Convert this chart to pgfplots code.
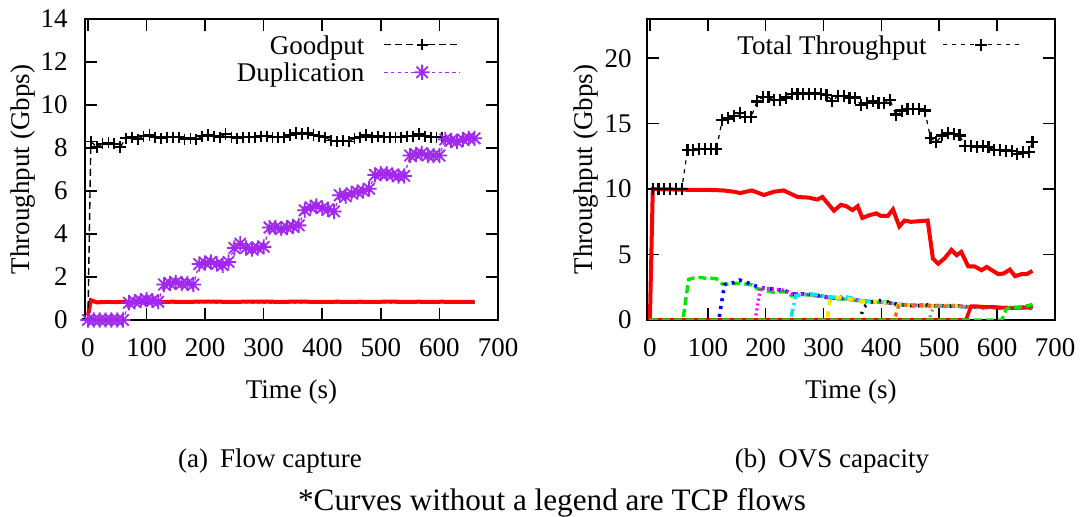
\documentclass[border=0pt]{standalone}
\usepackage{fontspec}
\setmainfont{Liberation Serif}
\usepackage{pgfplots}
\pgfplotsset{compat=1.18}
\definecolor{dup}{RGB}{160,40,240}
\definecolor{fgreen}{RGB}{0,230,0}
\definecolor{fblue}{RGB}{0,0,255}
\definecolor{fmag}{RGB}{255,0,255}
\definecolor{fcyan}{RGB}{0,230,240}
\definecolor{fyel}{RGB}{245,230,0}
\definecolor{forange}{RGB}{255,100,30}
\definecolor{fgray}{RGB}{150,150,150}
\definecolor{fred}{RGB}{255,0,0}
\pgfdeclareplotmark{gstar}{%
  \pgfpathmoveto{\pgfqpoint{-\pgfplotmarksize}{0pt}}\pgfpathlineto{\pgfqpoint{\pgfplotmarksize}{0pt}}%
  \pgfpathmoveto{\pgfqpoint{0pt}{-\pgfplotmarksize}}\pgfpathlineto{\pgfqpoint{0pt}{\pgfplotmarksize}}%
  \pgfpathmoveto{\pgfqpoint{-0.75\pgfplotmarksize}{-0.75\pgfplotmarksize}}\pgfpathlineto{\pgfqpoint{0.75\pgfplotmarksize}{0.75\pgfplotmarksize}}%
  \pgfpathmoveto{\pgfqpoint{-0.75\pgfplotmarksize}{0.75\pgfplotmarksize}}\pgfpathlineto{\pgfqpoint{0.75\pgfplotmarksize}{-0.75\pgfplotmarksize}}%
  \pgfusepathqstroke}
\pgfplotsset{
  base/.style={
    scale only axis, height=150.5pt,
    xmin=-5, xmax=700, xtick={0,100,...,700},
    tick align=inside, tick pos=both,
    major tick length=6pt,
    axis line style={line width=0.8pt},
    every tick/.style={black,line width=0.8pt},
    /pgf/number format/assume math mode=true,
    /pgf/number format/1000 sep={},
    xticklabel style={anchor=base, yshift=-18.25pt},
    xlabel={Time (s)}, ylabel={Throughput (Gbps)},
    xlabel style={at={(axis description cs:0.5,-0.261)}, anchor=base},
    legend cell align=right,
    legend plot pos=right,
    legend style={draw=none, fill=none, inner sep=0pt, outer sep=0pt,
      nodes={inner sep=0pt, text height=11.5pt, text depth=2.25pt},
      anchor=north east},
    legend image code/.code={%
      \draw[mark repeat=2,mark phase=2,##1] plot coordinates {(0pt,0pt) (19pt,0pt) (38pt,0pt)};},
  },
}
\begin{document}
\fontsize{13.5pt}{16pt}\selectfont
\begin{tikzpicture}[font=\fontsize{13.5pt}{16pt}\selectfont]
\useasboundingbox (0,0) rectangle (544.5pt,258.5pt);
% ---------------- (a) Flow capture ----------------
\begin{axis}[base, at={(42.5pt,98.5pt)}, anchor=south west, width=206.5pt,
  ymin=0, ymax=14, ytick={0,2,...,14}, clip mode=individual,
  yticklabel style={xshift=-4pt},
  ylabel style={at={(axis description cs:-0.150,0.5)}, anchor=center},
  legend style={at={(axis description cs:0.910,0.960)}, /tikz/column sep=9.5pt}]
% TCP flows (no legend)
\addplot[forget plot, fgreen, line width=1.2pt, dash pattern=on 4pt off 2pt] coordinates {
(0,0.2)(5,0.88)(25,0.86)(45,0.85)(65,0.87)(85,0.86)(105,0.85)(125,0.86)(145,0.87)(165,0.86)(185,0.85)(205,0.86)(225,0.87)(245,0.86)(265,0.85)(285,0.86)(305,0.87)(325,0.86)(345,0.85)(365,0.86)(385,0.87)(405,0.86)(425,0.85)(445,0.86)(465,0.87)(485,0.86)(505,0.85)(525,0.86)(545,0.87)(565,0.86)(585,0.85)(605,0.86)(625,0.87)(645,0.86)(660,0.86)};
\addplot[forget plot, fblue, line width=1.2pt, dash pattern=on 1.5pt off 2.5pt] coordinates {
(0,0.2)(5,0.84)(25,0.83)(45,0.84)(65,0.83)(85,0.84)(105,0.85)(125,0.84)(145,0.83)(165,0.84)(185,0.85)(205,0.84)(225,0.83)(245,0.84)(265,0.85)(285,0.84)(305,0.83)(325,0.84)(345,0.85)(365,0.84)(385,0.83)(405,0.84)(425,0.85)(445,0.84)(465,0.83)(485,0.84)(505,0.85)(525,0.84)(545,0.83)(565,0.84)(585,0.85)(605,0.84)(625,0.83)(645,0.84)(660,0.85)};
\addplot[forget plot, black, line width=0.8pt, dash pattern=on 1pt off 2pt] coordinates {
(0,0.2)(5,0.8)(25,0.8)(45,0.81)(65,0.8)(85,0.79)(105,0.8)(125,0.8)(145,0.81)(165,0.8)(185,0.8)(205,0.81)(225,0.8)(245,0.8)(265,0.81)(285,0.8)(305,0.8)(325,0.81)(345,0.8)(365,0.8)(385,0.81)(405,0.8)(425,0.8)(445,0.81)(465,0.8)(485,0.8)(505,0.81)(525,0.8)(545,0.8)(565,0.81)(585,0.8)(605,0.8)(625,0.81)(645,0.8)(660,0.8)};
\addplot[forget plot, fred, line width=2pt] coordinates {
(0,0.2)(5,0.92)(15,0.82)(25,0.83)(35,0.84)(45,0.83)(55,0.84)(65,0.84)(75,0.83)(85,0.85)(95,0.84)(105,0.85)(115,0.86)(125,0.84)(145,0.85)(165,0.84)(185,0.85)(205,0.86)(225,0.85)(245,0.84)(265,0.85)(285,0.85)(305,0.86)(325,0.84)(345,0.85)(365,0.86)(385,0.84)(405,0.84)(425,0.85)(445,0.84)(465,0.85)(485,0.84)(505,0.85)(525,0.85)(545,0.84)(565,0.85)(585,0.84)(605,0.85)(625,0.84)(645,0.84)(660,0.84)};
% Goodput
\addplot[black, line width=0.7pt, dash pattern=on 3.5pt off 2pt, mark=+, mark size=2.8pt,
  mark options={solid, line width=0.9pt}] coordinates {
(0,0.05)(5,8.3)(15,8.05)(25,8.2)(35,8.25)(45,8.2)(55,8.05)(65,8.45)(75,8.5)(85,8.4)(95,8.55)
(105,8.6)(115,8.5)(125,8.45)(135,8.5)(145,8.5)(155,8.5)(165,8.4)(175,8.45)(185,8.4)(195,8.55)
(205,8.6)(215,8.55)(225,8.5)(235,8.65)(245,8.5)(255,8.45)(265,8.5)(275,8.5)(285,8.5)(295,8.55)
(305,8.55)(315,8.5)(325,8.5)(335,8.5)(345,8.6)(355,8.7)(365,8.65)(375,8.7)(385,8.6)(395,8.55)
(405,8.5)(415,8.35)(425,8.3)(435,8.35)(445,8.3)(455,8.45)(465,8.5)(475,8.6)(485,8.5)(495,8.55)
(505,8.5)(515,8.5)(525,8.5)(535,8.5)(545,8.55)(555,8.55)(565,8.65)(575,8.55)(585,8.5)(595,8.5)(605,8.5)};
\addlegendentry{Goodput}
% Duplication
\addplot[dup, line width=0.6pt, dash pattern=on 1.7pt off 1.7pt, mark=gstar, mark size=3.8pt,
  mark options={solid, line width=0.9pt}] coordinates {
(0,0)(10,0)(20,0)(30,0)(40,0)(50,0)(60,0)
(70,0.8)(80,0.85)(90,0.9)(100,0.95)(110,0.9)(120,0.85)
(130,1.65)(140,1.7)(150,1.75)(160,1.7)(170,1.7)(180,1.65)
(190,2.6)(200,2.65)(210,2.7)(220,2.6)(230,2.55)(240,2.7)
(250,3.35)(260,3.55)(270,3.35)(280,3.3)(290,3.35)(300,3.4)
(310,4.3)(320,4.3)(330,4.25)(340,4.3)(350,4.35)(360,4.4)
(370,5.1)(380,5.25)(390,5.3)(400,5.2)(410,5.15)(420,5.05)
(430,5.8)(440,5.75)(450,5.9)(460,5.95)(470,6.0)(480,6.1)
(490,6.75)(500,6.8)(510,6.8)(520,6.75)(530,6.7)(540,6.7)
(550,7.65)(560,7.7)(570,7.75)(580,7.65)(590,7.65)(600,7.65)
(610,8.4)(620,8.35)(630,8.3)(640,8.4)(650,8.45)(660,8.45)};
\addlegendentry{Duplication}
\end{axis}
% ---------------- (b) OVS capacity ----------------
\begin{axis}[base, at={(323.5pt,98.5pt)}, anchor=south west, width=204pt,
  ymin=0, ymax=23, ytick={0,5,...,20},
  yticklabel style={xshift=-3pt},
  ylabel style={at={(axis description cs:-0.149,0.5)}, anchor=center},
  legend style={at={(axis description cs:0.914,0.960)}, /tikz/column sep=8pt}]
% main TCP flow
\addplot[forget plot, fred, line width=2pt] coordinates {
(0,0)(5,10)(65,9.95)(95,9.95)(127,9.9)(145,9.8)(156,9.7)(176,9.9)(197,9.55)(214,9.8)(231,9.9)
(255,9.4)(275,9.35)(289,9.2)(298,9.4)(318,8.35)(330,8.8)(339,8.7)(350,8.4)(359,8.7)(367,7.8)
(379,8.0)(391,8.15)(399,7.95)(411,7.95)(420,8.45)(431,7.15)(440,7.6)(451,7.5)(480,7.6)(489,4.7)
(498,4.3)(509,4.7)(521,5.35)(530,4.95)(538,5.2)(550,4.1)(561,4.1)(573,3.8)(582,4.05)(602,3.5)
(611,3.55)(622,3.85)(631,3.35)(642,3.5)(651,3.5)(661,3.75)};
% flow 1 green
\addplot[forget plot, fgreen, line width=1.7pt, dash pattern=on 4pt off 2pt] coordinates {
(0,0)(57,0)(67,3.1)(75,3.2)(85,3.25)(95,3.2)(105,3.2)(115,3.15)(125,2.75)(135,2.75)(145,2.8)(155,2.8)(165,2.75)(175,2.7)(185,2.4)(195,2.3)(205,2.2)(215,2.1)(225,2.15)(235,2.15)(245,1.85)(255,1.9)(265,1.95)(275,1.9)(285,1.85)(295,1.8)(305,1.7)(315,1.65)(325,1.6)(335,1.6)(345,1.55)(355,1.5)(365,1.4)(375,1.45)(385,1.4)(395,1.35)(405,1.3)(415,1.3)(425,1.15)(435,1.15)(445,1.15)(455,1.1)(465,1.1)(475,1.1)(485,1.1)(495,1.05)(505,1.05)(515,1.1)(525,1.05)(535,1.05)(545,1.0)(555,1.0)(565,1.0)(575,0.95)(585,0.95)(595,1.0)(605,0.9)(615,0.95)(625,0.9)(635,0.95)(645,1.0)(655,1.05)(661,1.1)};
% flow 2 blue
\addplot[forget plot, fblue, line width=1.8pt, dash pattern=on 1.5pt off 2.5pt] coordinates {
(0,0)(119,0)(129,2.7)(135,2.8)(145,2.85)(155,3.05)(165,2.9)(175,2.75)(185,2.55)(195,2.45)(205,2.4)(215,2.35)(225,2.3)(235,2.2)(245,2.0)(255,1.95)(265,2.0)(275,1.95)(285,1.9)(295,1.85)(305,1.75)(315,1.7)(325,1.65)(335,1.65)(345,1.6)(355,1.55)(365,1.45)(375,1.4)(385,1.4)(395,1.4)(405,1.35)(415,1.3)(425,1.2)(435,1.15)(445,1.15)(455,1.1)(465,1.15)(475,1.1)(485,1.1)(495,1.1)(505,1.05)(515,1.05)(525,1.1)(535,1.05)(545,1.0)(555,0.95)(565,1.0)(575,1.0)(585,0.95)(595,0.95)(605,0.95)(615,0.9)(625,0.95)(635,0.9)(645,0.95)(655,0.95)(661,1.0)};
% flow 3 magenta
\addplot[forget plot, fmag, line width=1.7pt, dash pattern=on 1pt off 1.5pt] coordinates {
(0,0)(182,0)(191,2.5)(195,2.45)(205,2.4)(215,2.35)(225,2.3)(235,2.25)(245,2.0)(255,2.0)(265,1.95)(275,1.95)(285,1.9)(295,1.85)(305,1.75)(315,1.7)(325,1.7)(335,1.65)(345,1.6)(355,1.55)(365,1.45)(375,1.4)(385,1.35)(395,1.4)(405,1.35)(415,1.3)(425,1.15)(435,1.2)(445,1.15)(455,1.15)(465,1.1)(475,1.1)(485,1.05)(495,1.1)(505,1.1)(515,1.05)(525,1.05)(535,1.1)(545,0.95)(555,1.0)(565,0.95)(575,1.0)(585,1.0)(595,0.95)(605,0.9)(615,0.95)(625,0.95)(635,0.9)(645,0.9)(655,0.95)(661,0.95)};
% flow 4 cyan
\addplot[forget plot, fcyan, line width=1.8pt, dash pattern=on 4pt off 2pt on 1pt off 2pt] coordinates {
(0,0)(243,0)(252,1.85)(265,1.95)(275,2.0)(285,1.95)(295,1.9)(305,1.8)(315,1.75)(325,1.75)(335,1.8)(345,1.7)(355,1.6)(365,1.45)(375,1.4)(385,1.45)(395,1.35)(405,1.4)(415,1.35)(425,1.2)(435,1.15)(445,1.1)(455,1.15)(465,1.1)(475,1.15)(485,1.1)(495,1.05)(505,1.1)(515,1.1)(525,1.05)(535,1.05)(545,1.0)(555,1.0)(565,0.95)(575,0.95)(585,1.0)(595,1.0)(605,0.95)(615,0.95)(625,0.9)(635,0.95)(645,0.9)(655,0.9)(661,0.9)};
% flow 5 yellow
\addplot[forget plot, fyel, line width=1.8pt, dash pattern=on 3pt off 3pt] coordinates {
(0,0)(306,0)(312,1.65)(325,1.7)(335,1.7)(345,1.6)(355,1.55)(365,1.4)(375,1.4)(385,1.4)(395,1.35)(405,1.35)(415,1.3)(425,1.15)(435,1.15)(445,1.15)(455,1.1)(465,1.1)(475,1.1)(485,1.05)(495,1.1)(505,1.05)(515,1.1)(525,1.1)(535,1.05)(545,1.0)(555,1.0)(565,1.0)(575,1.05)(585,1.0)(595,0.95)(605,0.95)(615,0.9)(625,0.95)(635,0.95)(645,0.95)(655,1.0)(661,1.0)};
% flow 6 black
\addplot[forget plot, black, line width=1.7pt, dash pattern=on 1pt off 3pt] coordinates {
(0,0)(362,0)(370,1.0)(380,1.35)(390,1.45)(400,1.5)(410,1.4)(420,1.3)(430,1.15)(440,1.15)(450,1.1)(460,1.1)(470,1.1)(480,1.15)(490,1.1)(500,1.05)(510,1.1)(520,1.05)(530,1.05)(540,1.1)(550,1.0)(560,1.0)(570,0.95)(580,0.95)(590,1.0)(600,0.95)(610,0.95)(620,0.9)(630,0.95)(640,0.95)(650,0.9)(661,0.9)};
% flow 7 orange
\addplot[forget plot, forange, line width=1.7pt, dash pattern=on 2pt off 2pt] coordinates {
(0,0)(422,0)(430,1.1)(440,1.15)(450,1.1)(460,1.15)(470,1.1)(480,1.1)(490,1.05)(500,1.1)(510,1.05)(520,1.1)(530,1.05)(540,1.05)(550,1.0)(560,1.0)(570,1.0)(580,0.95)(590,1.0)(600,0.95)(610,0.95)(620,0.9)(630,0.95)(640,0.9)(650,0.95)(661,0.95)};
% flow 8 gray
\addplot[forget plot, fgray, line width=1.7pt, dash pattern=on 1pt off 2pt] coordinates {
(0,0)(482,0)(490,1.0)(500,1.1)(510,1.05)(520,1.1)(530,1.05)(540,1.05)(550,1.0)(560,1.0)(570,0.95)(580,1.0)(590,0.95)(600,0.95)(610,0.9)(620,0.95)(630,0.9)(640,0.95)(650,0.9)(661,0.95)};
% flow 9 red
\addplot[forget plot, fred, line width=1.8pt] coordinates {
(0,0)(546,0)(555,1.05)(565,1.05)(575,1.0)(585,1.0)(595,1.0)(605,0.95)(615,0.95)(625,0.9)(635,0.95)(645,0.95)(655,1.0)(661,1.05)};
% flow 10 green
\addplot[forget plot, fgreen, line width=1.7pt, dash pattern=on 4pt off 2pt] coordinates {
(0,0)(608,0)(616,0.85)(625,1.0)(635,0.95)(645,1.05)(655,1.1)(661,1.2)};
% total
\addplot[black, line width=0.6pt, dash pattern=on 2pt off 2.5pt, mark=+, mark size=3pt,
  mark options={solid, line width=1.1pt}] coordinates {
(5,10)(15,10)(25,10)(35,10)(45,10)(55,10)
(65,13)(75,13)(85,13.05)(95,13.05)(105,13.05)(115,13.05)
(125,15.3)(135,15.4)(145,15.6)(155,15.8)(165,15.5)(175,15.5)
(185,16.7)(195,17.05)(205,17.05)(215,16.8)(225,16.8)(235,17.0)
(245,17.25)(255,17.3)(265,17.3)(275,17.3)(285,17.3)(295,17.25)
(305,17.2)(315,16.75)(325,17.1)(335,17.1)(345,17.0)(355,17.0)
(365,16.4)(375,16.6)(385,16.7)(395,16.6)(405,16.6)(415,16.8)
(425,15.7)(435,16.0)(445,16.1)(455,16.1)(465,16.1)(475,16.0)
(485,13.9)(495,13.6)(505,14.1)(515,14.3)(525,14.2)(535,14.1)
(545,13.3)(555,13.3)(565,13.2)(575,13.3)(585,13.2)(595,13.0)
(605,13.0)(615,12.95)(625,12.9)(635,12.7)(645,12.8)(655,12.85)(661,13.6)};
\addlegendentry{Total Throughput}
\end{axis}
% captions
\node[anchor=base] at (135pt,24.5pt) {(a)\hspace{0.45em}Flow capture};
\node[anchor=base] at (416pt,24.5pt) {(b)\hspace{0.45em}OVS capacity};
\node[anchor=base, font=\fontsize{15.6pt}{18pt}\selectfont] at (276pt,3pt) {*Curves without a legend are TCP flows};
\end{tikzpicture}
\end{document}
